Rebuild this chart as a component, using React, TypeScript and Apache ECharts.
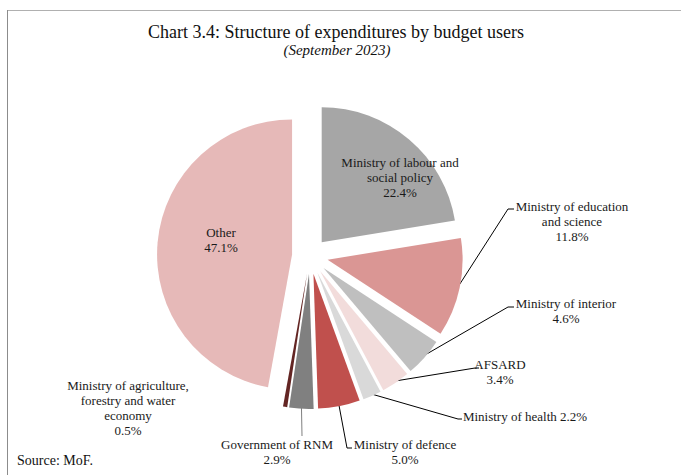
import React, { useEffect, useRef } from 'react';
import * as echarts from 'echarts';

const categories = [
  'Ministry of labour and\nsocial policy',
  'Ministry of education\nand science',
  'Ministry of interior',
  'AFSARD',
  'Ministry of health',
  'Ministry of defence',
  'Government of RNM',
  'Ministry of agriculture,\nforestry and water\neconomy',
  'Other',
];
const values = [22.4, 11.8, 4.6, 3.4, 2.2, 5.0, 2.9, 0.5, 47.1];
const colors = ['#a6a6a6', '#da9694', '#bfbfbf', '#f2dcdb', '#d9d9d9', '#c0504d', '#808080', '#632523', '#e6b9b8'];
const singleLineLabel = [false, false, false, false, true, false, false, false, false];
const showLeader = [false, true, true, true, true, true, true, false, false];
const leaderColors = ['#000', '#000', '#000', '#000', '#000', '#000', '#7f7f7f', '#000', '#000'];
// layout: label centres and leader-line bends (px)
const labelAnchors = [
  [400, 177], [572, 221], [566, 311], [500, 372], [525, 416], [405, 452], [277, 452], [128, 408], [221, 240],
];
const leaderBends: number[][][] = [
  [], [[508, 209], [514, 209]], [[508, 307], [514, 307]], [[475, 368], [479, 368]], [[458, 419], [462, 419]],
  [[347, 448], [352, 448]], [[302, 436]], [], [],
];

const FONT = '"Liberation Serif", "DejaVu Serif", serif';
const CX = 310;
const CY = 256;
const R = 135;
const EXPLODE = 18;

export default function App() {
  const ref = useRef<HTMLDivElement>(null);
  useEffect(() => {
    if (!ref.current) return;
    const chart = echarts.init(ref.current, null, { renderer: 'svg' });
    const total = values.reduce((a, b) => a + b, 0);
    let acc = 0;
    const mids = values.map((v) => {
      const m = ((acc + v / 2) / total) * 360;
      acc += v;
      return m;
    });
    const dir = (deg: number) => [Math.sin((deg * Math.PI) / 180), -Math.cos((deg * Math.PI) / 180)];

    const series = values.map((_, i) => {
      const [dx, dy] = dir(mids[i]);
      const c = [CX + EXPLODE * dx, CY + EXPLODE * dy];
      return {
        type: 'pie',
        center: c,
        radius: R,
        startAngle: 90,
        clockwise: true,
        silent: true,
        avoidLabelOverlap: false,
        emphasis: { disabled: true },
        itemStyle: { borderWidth: 0 },
        label: {
          position: 'outside',
          fontFamily: FONT,
          fontSize: 13,
          lineHeight: 15,
          color: '#1a1a1a',
          align: 'center',
          formatter: (p: any) => {
            const k = p.dataIndex;
            return singleLineLabel[k] ? `${p.name} ${values[k].toFixed(1)}%` : `${p.name}\n${values[k].toFixed(1)}%`;
          },
        },
        labelLine: { lineStyle: { color: leaderColors[i], width: 1 }, length: 10, length2: 6 },
        labelLayout: (p: any) => {
          if (p.dataIndex !== i) return {};
          const a = labelAnchors[i];
          const out: any = { x: a[0], y: a[1], align: 'center', verticalAlign: 'middle' };
          if (showLeader[i]) {
            const start = [c[0] + (R - 2) * dx, c[1] + (R - 2) * dy];
            out.labelLinePoints = [start, ...leaderBends[i]];
          }
          return out;
        },
        data: values.map((v, j) => ({
          name: categories[j],
          value: v,
          itemStyle: { color: j === i ? colors[j] : 'rgba(0,0,0,0)' },
          label: { show: j === i },
          labelLine: { show: j === i && showLeader[j] },
        })),
      };
    });

    chart.setOption({
      animation: false,
      backgroundColor: '#ffffff',
      graphic: [
        { type: 'line', shape: { x1: 7, y1: 10.5, x2: 681, y2: 10.5 }, style: { stroke: '#b0b0b0', lineWidth: 1 } },
        { type: 'line', shape: { x1: 7.5, y1: 10, x2: 7.5, y2: 475 }, style: { stroke: '#8c8c8c', lineWidth: 1 } },
        {
          type: 'text', x: 336, y: 32,
          style: { text: 'Chart 3.4: Structure of expenditures by budget users', font: `18px ${FONT}`, fill: '#111', textAlign: 'center', textVerticalAlign: 'middle' },
        },
        {
          type: 'text', x: 337, y: 50,
          style: { text: '(September 2023)', font: `italic 15px ${FONT}`, fill: '#111', textAlign: 'center', textVerticalAlign: 'middle' },
        },
        {
          type: 'text', x: 17, y: 460,
          style: { text: 'Source: MoF.', font: `14px ${FONT}`, fill: '#111', textAlign: 'left', textVerticalAlign: 'middle' },
        },
      ],
      series,
    });
    return () => chart.dispose();
  }, []);
  return <div ref={ref} style={{ position: 'fixed', left: 0, top: 0, width: 681, height: 475 }} />;
}
